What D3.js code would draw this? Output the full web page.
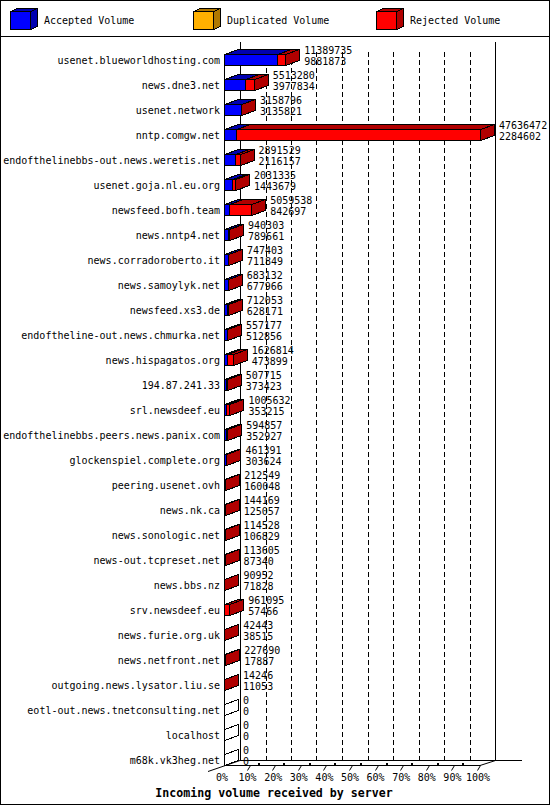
<!DOCTYPE html>
<html>
<head>
<meta charset="utf-8">
<script src="https://cdn.jsdelivr.net/npm/d3@7"></script>
<style>
  body { margin: 0; background: #fff; }
  svg text { font-family: "DejaVu Sans Mono", monospace; }
</style>
</head>
<body>
<div id="chart"></div>
<script>
const servers = [
  "usenet.blueworldhosting.com", "news.dne3.net", "usenet.network", "nntp.comgw.net",
  "endofthelinebbs-out.news.weretis.net", "usenet.goja.nl.eu.org", "newsfeed.bofh.team",
  "news.nntp4.net", "news.corradoroberto.it", "news.samoylyk.net", "newsfeed.xs3.de",
  "endoftheline-out.news.chmurka.net", "news.hispagatos.org", "194.87.241.33",
  "srl.newsdeef.eu", "endofthelinebbs.peers.news.panix.com", "glockenspiel.complete.org",
  "peering.usenet.ovh", "news.nk.ca", "news.sonologic.net", "news-out.tcpreset.net",
  "news.bbs.nz", "srv.newsdeef.eu", "news.furie.org.uk", "news.netfront.net",
  "outgoing.news.lysator.liu.se", "eotl-out.news.tnetconsulting.net", "localhost",
  "m68k.vk3heg.net"
];
const totalVolume = [
  11389735, 5513280, 3158796, 47636472, 2891529, 2031335, 5059538, 940303, 747403,
  683132, 712053, 557177, 1626814, 507715, 1005632, 594857, 461391, 212549, 144169,
  114528, 113605, 90952, 961095, 42443, 227690, 14246, 0, 0, 0
];
const acceptedVolume = [
  9881873, 3977834, 3135821, 2284602, 2116157, 1443679, 842697, 789661, 711849,
  677966, 628171, 512856, 473899, 373423, 353215, 352927, 303624, 160048, 125057,
  106829, 87340, 71828, 57466, 38515, 17887, 11053, 0, 0, 0
];
const duplicatedVolume = servers.map(() => 0);
const legendLabels = ["Accepted Volume", "Duplicated Volume", "Rejected Volume"];
const tickLabels = ["0%", "10%", "20%", "30%", "40%", "50%", "60%", "70%", "80%", "90%", "100%"];
const axisTitle = "Incoming volume received by server";

// Dimensions
const width = 550, height = 805;
const dx = 15, dy = -5;          // 3d depth
const faceTop = -6, faceBot = 5; // bar front face relative to row centre
const floorY = 765.5;

const colors = [
  { face: "#0000ff", dark: "#0000b0" },
  { face: "#ffb000", dark: "#b07800" },
  { face: "#ff0000", dark: "#b00000" }
];

const data = servers.map((s, i) => ({
  name: s,
  total: totalVolume[i],
  accepted: acceptedVolume[i],
  duplicated: duplicatedVolume[i]
}));

const x = d3.scaleLinear()
  .domain([0, d3.max(totalVolume)])
  .range([224, 480]);

const y = d3.scalePoint()
  .domain(servers)
  .range([60, 760]);

const svg = d3.select("#chart").append("svg")
  .attr("width", width)
  .attr("height", height)
  .attr("shape-rendering", "crispEdges");

// frame + legend separator
svg.append("rect")
  .attr("x", 0.5).attr("y", 0.5)
  .attr("width", width - 1).attr("height", height - 1)
  .attr("fill", "#fff").attr("stroke", "#000");
svg.append("line")
  .attr("x1", 0).attr("x2", width)
  .attr("y1", 36.5).attr("y2", 36.5)
  .attr("stroke", "#000");

// draws a 3d box (front, top, side)
function box(g, x0, x1, yt, yb, c, ddx, ddy, fill) {
  const f = fill !== false;
  g.append("polygon")
    .attr("points", [[x0, yt], [x1, yt], [x1, yb], [x0, yb]].join(" "))
    .attr("fill", f ? c.face : "none").attr("stroke", "#000");
  g.append("polygon")
    .attr("points", [[x0, yt], [x0 + ddx, yt + ddy], [x1 + ddx, yt + ddy], [x1, yt]].join(" "))
    .attr("fill", f ? c.dark : "none").attr("stroke", "#000");
  g.append("polygon")
    .attr("points", [[x1, yt], [x1 + ddx, yt + ddy], [x1 + ddx, yb + ddy], [x1, yb]].join(" "))
    .attr("fill", f ? c.dark : "none").attr("stroke", "#000");
}

// Legend
const legend = svg.append("g").attr("class", "legend");
[10.5, 193.5, 376.5].forEach((lx, i) => {
  box(legend, lx, lx + 20, 11.5, 29.5, colors[i], 7, -3);
  legend.append("text")
    .attr("x", lx + 33.5).attr("y", 23.5)
    .attr("font-size", 10)
    .text(legendLabels[i]);
});

// back wall + grid
const plot = svg.append("g");
const backX = d => x(d) + dx + 1;
plot.append("line")
  .attr("x1", 240.5).attr("x2", 240.5).attr("y1", 42).attr("y2", floorY + dy)
  .attr("stroke", "#000");
plot.append("line")
  .attr("x1", 495.5).attr("x2", 495.5).attr("y1", 42).attr("y2", floorY + dy)
  .attr("stroke", "#000");

const max = d3.max(totalVolume);
const ticks = d3.range(0, 11).map(k => k * max / 10);

plot.selectAll(".grid")
  .data(ticks.slice(1, 10))
  .enter().append("line")
  .attr("class", "grid")
  .attr("x1", d => Math.round(240 + (x(d) - 224) * 255 / 256) + 0.5)
  .attr("x2", d => Math.round(240 + (x(d) - 224) * 255 / 256) + 0.5)
  .attr("y1", 52).attr("y2", floorY + dy)
  .attr("stroke", "#000")
  .attr("stroke-dasharray", "5,3");

// floor
plot.append("line")
  .attr("x1", 240).attr("x2", 522).attr("y1", floorY + dy).attr("y2", floorY + dy)
  .attr("stroke", "#000");
plot.append("line")
  .attr("x1", 224).attr("x2", 480).attr("y1", floorY).attr("y2", floorY)
  .attr("stroke", "#000");
plot.append("line")
  .attr("x1", 208).attr("y1", floorY + 6).attr("x2", 240).attr("y2", floorY + dy)
  .attr("stroke", "#000").attr("shape-rendering", "auto");
plot.append("line")
  .attr("x1", 480).attr("y1", floorY).attr("x2", 495.5).attr("y2", floorY + dy)
  .attr("stroke", "#000").attr("shape-rendering", "auto");

// front left axis
plot.append("line")
  .attr("x1", 224.5).attr("x2", 224.5)
  .attr("y1", y(servers[0]) + faceTop).attr("y2", floorY)
  .attr("stroke", "#000");

// x ticks
const tk = plot.selectAll(".tick")
  .data(ticks)
  .enter().append("g").attr("class", "tick");
tk.filter((d, i) => i > 0).append("line")
  .attr("x1", d => Math.round(x(d)) + 0.5).attr("x2", d => Math.round(x(d)) - 2.5)
  .attr("y1", floorY).attr("y2", floorY + 5)
  .attr("stroke", "#000").attr("shape-rendering", "auto");
tk.filter((d, i) => i > 0 && i < 10).append("rect")
  .attr("x", d => Math.round(x(d)) + 8).attr("y", floorY - 3)
  .attr("width", 2).attr("height", 2)
  .attr("fill", "#000");
tk.append("text")
  .attr("x", d => x(d) - 2)
  .attr("y", 781)
  .attr("text-anchor", "middle")
  .attr("font-size", 10)
  .text((d, i) => tickLabels[i]);

svg.append("text")
  .attr("x", 274).attr("y", 797)
  .attr("text-anchor", "middle")
  .attr("font-size", 11.6)
  .attr("font-weight", "bold")
  .text(axisTitle);

// bars
const rows = plot.selectAll(".row")
  .data(data)
  .enter().append("g")
  .attr("class", "row");

rows.each(function(d) {
  const g = d3.select(this);
  const yc = y(d.name);
  const yt = yc + faceTop + 0.5, yb = yc + faceBot + 0.5;
  const x0 = Math.round(x(0)) + 0.5;
  if (d.total === 0) {
    box(g, x0, x0, yt, yb, colors[0], dx - 1, dy, false);
  } else {
    const xa = Math.round(x(d.accepted)) + 0.5;
    const xd = Math.round(x(d.accepted + d.duplicated)) + 0.5;
    const xt = Math.round(x(d.total)) + 0.5;
    box(g, x0, xa, yt, yb, colors[0], dx - 1, dy);
    if (d.duplicated > 0) box(g, xa, xd, yt, yb, colors[1], dx - 1, dy);
    box(g, xd, xt, yt, yb, colors[2], dx - 1, dy);
  }
  const lx = x(d.total) + dx + 4;
  g.append("text")
    .attr("x", lx).attr("y", yc - 6.5)
    .attr("font-size", 10)
    .text(d.total);
  g.append("text")
    .attr("x", lx).attr("y", yc + 4.5)
    .attr("font-size", 10)
    .text(d.accepted);
});

// server names
plot.selectAll(".name")
  .data(servers)
  .enter().append("text")
  .attr("class", "name")
  .attr("x", 220)
  .attr("y", d => y(d) + 3.5)
  .attr("text-anchor", "end")
  .attr("font-size", 10)
  .text(d => d);
</script>
</body>
</html>
